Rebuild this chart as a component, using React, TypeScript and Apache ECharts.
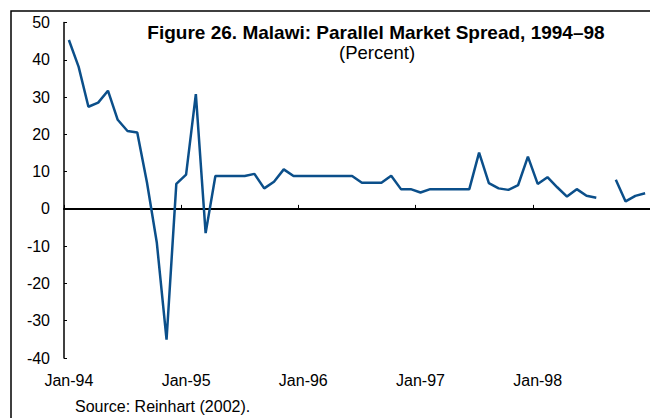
import React, { useEffect, useRef } from "react";
import * as echarts from "echarts";

const years = ["94", "95", "96", "97", "98"];
const monthNames = ["Jan", "Feb", "Mar", "Apr", "May", "Jun", "Jul", "Aug", "Sep", "Oct", "Nov", "Dec"];
const categories: string[] = [];
years.forEach((y) => monthNames.forEach((m) => categories.push(`${m}-${y}`)));

const spread: (number | null)[] = [
  45.3, 38.1, 27.4, 28.5, 31.7, 23.9, 20.9, 20.5, 7.0, -9.0, -35.1, 6.7,
  9.2, 30.8, -6.5, 8.8, 8.8, 8.8, 8.8, 9.4, 5.5, 7.3, 10.6, 8.8,
  8.8, 8.8, 8.8, 8.8, 8.8, 8.8, 7.0, 7.0, 7.0, 8.9, 5.3, 5.3,
  4.4, 5.3, 5.3, 5.3, 5.3, 5.3, 15.1, 6.9, 5.5, 5.1, 6.4, 14.0,
  6.7, 8.5, 5.8, 3.3, 5.3, 3.5, 3.0, null, 7.8, 2.0, 3.5, 4.2,
];

const titleText = "Figure 26. Malawi: Parallel Market Spread, 1994\u201398";
const subtitleText = "(Percent)";
const sourceText = "Source: Reinhart (2002).";

const FONT = "'Liberation Sans', Arial, sans-serif";

export default function App() {
  const ref = useRef<HTMLDivElement>(null);
  useEffect(() => {
    if (!ref.current) return;
    const chart = echarts.init(ref.current, null, { renderer: "svg" });
    chart.setOption({
      animation: false,
      backgroundColor: "#ffffff",
      textStyle: { fontFamily: FONT },
      title: [
        {
          text: titleText,
          left: 376,
          top: 23,
          padding: 0,
          textAlign: "center",
          textStyle: { fontSize: 19, fontWeight: "bold", color: "#000", fontFamily: FONT },
        },
        {
          text: subtitleText,
          left: 377,
          top: 43,
          padding: 0,
          textAlign: "center",
          textStyle: { fontSize: 18.5, fontWeight: "normal", color: "#000", fontFamily: FONT },
        },
        {
          text: sourceText,
          left: 75,
          top: 398,
          padding: 0,
          textStyle: { fontSize: 16, fontWeight: "normal", color: "#000", fontFamily: FONT },
        },
      ],
      graphic: [
        {
          type: "rect",
          shape: { x: 11, y: 11, width: 700, height: 500 },
          style: { fill: "none", stroke: "#000", lineWidth: 1.5 },
          silent: true,
        },
      ],
      grid: [
        { left: 64, top: 22.5, width: 588, height: 335.5 },
        { left: 64, top: 22.5, width: 588, height: 335.5 },
      ],
      xAxis: [
        {
          type: "category",
          gridIndex: 0,
          data: categories,
          boundaryGap: true,
          axisLine: { onZero: true, lineStyle: { color: "#000", width: 2 } },
          axisTick: { show: true, inside: true, interval: 11, length: 4, lineStyle: { color: "#000", width: 1 } },
          axisLabel: { show: false },
          splitLine: { show: false },
        },
        {
          type: "category",
          gridIndex: 1,
          data: categories,
          boundaryGap: true,
          axisLine: { show: false, onZero: false },
          axisTick: { show: false },
          axisLabel: { show: true, interval: 11, margin: 14, fontSize: 16, color: "#000", fontFamily: FONT },
          splitLine: { show: false },
        },
      ],
      yAxis: [
        {
          type: "value",
          gridIndex: 0,
          min: -40,
          max: 50,
          interval: 10,
          axisLine: { show: true, onZero: false, lineStyle: { color: "#000", width: 1.5 } },
          axisTick: { show: true, inside: true, length: 3, lineStyle: { color: "#000", width: 1 } },
          axisLabel: { margin: 14, fontSize: 16, color: "#000", fontFamily: FONT },
          splitLine: { show: false },
        },
        {
          type: "value",
          gridIndex: 1,
          show: false,
          min: 0,
          max: 1,
        },
      ],
      series: [
        {
          type: "line",
          xAxisIndex: 0,
          yAxisIndex: 0,
          data: spread,
          symbol: "none",
          connectNulls: false,
          lineStyle: { color: "#0b4f8a", width: 2.5 },
          z: 3,
        },
      ],
    });
    return () => chart.dispose();
  }, []);
  return (
    <div
      ref={ref}
      style={{ position: "absolute", left: 0, top: 0, width: 650, height: 418 }}
    />
  );
}
